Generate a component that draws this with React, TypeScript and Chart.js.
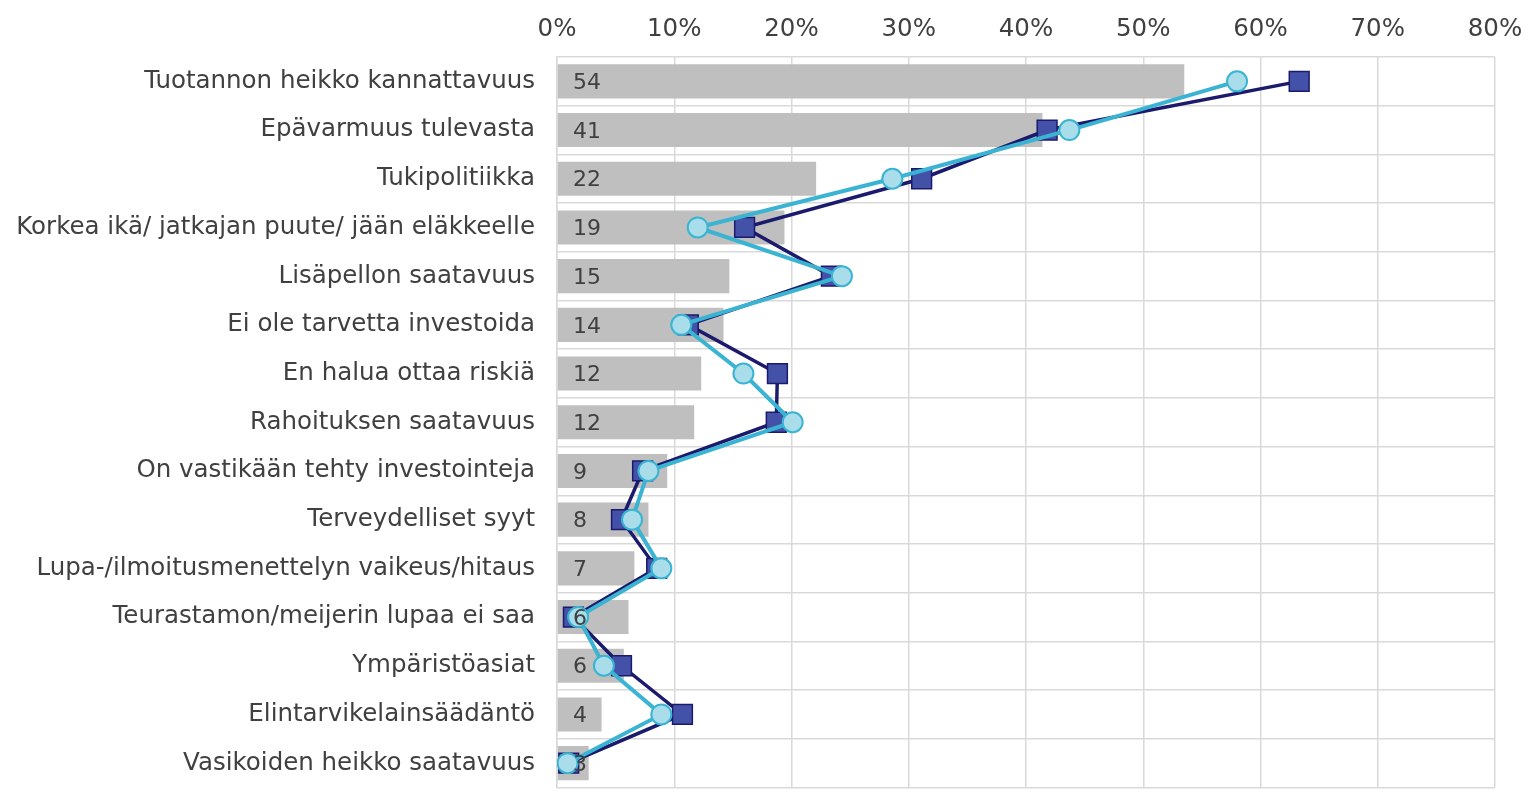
import React, { useEffect, useRef } from "react";
import { Chart, registerables } from "chart.js";

Chart.register(...registerables);

const categories = [
  "Tuotannon heikko kannattavuus",
  "Epävarmuus tulevasta",
  "Tukipolitiikka",
  "Korkea ikä/ jatkajan puute/ jään eläkkeelle",
  "Lisäpellon saatavuus",
  "Ei ole tarvetta investoida",
  "En halua ottaa riskiä",
  "Rahoituksen saatavuus",
  "On vastikään tehty investointeja",
  "Terveydelliset syyt",
  "Lupa-/ilmoitusmenettelyn vaikeus/hitaus",
  "Teurastamon/meijerin lupaa ei saa",
  "Ympäristöasiat",
  "Elintarvikelainsäädäntö",
  "Vasikoiden heikko saatavuus",
];

const barValues = [53.5, 41.4, 22.1, 19.4, 14.7, 14.2, 12.3, 11.7, 9.4, 7.8, 6.6, 6.1, 5.7, 3.8, 2.7];
const navyValues = [63.3, 41.8, 31.1, 16.0, 23.4, 11.2, 18.8, 18.7, 7.3, 5.5, 8.5, 1.4, 5.5, 10.7, 1.0];
const lightValues = [58.0, 43.7, 28.6, 12.0, 24.3, 10.6, 15.9, 20.1, 7.8, 6.4, 8.9, 1.8, 4.0, 8.9, 0.9];
const xTicks = [0, 10, 20, 30, 40, 50, 60, 70, 80];

const FONT = "'DejaVu Sans', Verdana, sans-serif";

const barLabelPlugin = {
  id: "barLabels",
  afterDatasetsDraw(chart: any) {
    const meta = chart.getDatasetMeta(0);
    const ctx = chart.ctx;
    const x0 = chart.scales.x.getPixelForValue(0);
    ctx.save();
    ctx.font = `22px ${FONT}`;
    ctx.fillStyle = "#404040";
    ctx.textAlign = "left";
    ctx.textBaseline = "middle";
    meta.data.forEach((el: any, i: number) => {
      ctx.fillText(String(Math.round(barValues[i])), x0 + 16, el.y + 2);
    });
    ctx.restore();
  },
};

const zeroPad = () => ({ left: 0, top: 0, right: 0, bottom: 0 });

export default function App() {
  const ref = useRef<HTMLCanvasElement>(null);
  useEffect(() => {
    if (!ref.current) return;
    const chart = new Chart(ref.current, {
      type: "bar",
      data: {
        labels: categories,
        datasets: [
          {
            type: "bar",
            data: barValues,
            backgroundColor: "#BFBFBF",
            barPercentage: 0.7,
            categoryPercentage: 1,
            order: 3,
          } as any,
          {
            type: "line",
            data: navyValues,
            borderColor: "#1B1A6C",
            borderWidth: 3.5,
            pointStyle: "rect",
            pointRadius: 14,
            pointBackgroundColor: "#4352A8",
            pointBorderColor: "#1B1A6C",
            pointBorderWidth: 1.5,
            order: 2,
          } as any,
          {
            type: "line",
            data: lightValues,
            borderColor: "#3AB4D2",
            borderWidth: 4,
            pointStyle: "circle",
            pointRadius: 10,
            pointBackgroundColor: "#A9DDEA",
            pointBorderColor: "#3AB4D2",
            pointBorderWidth: 2,
            order: 1,
          } as any,
        ],
      },
      options: {
        indexAxis: "y",
        responsive: false,
        maintainAspectRatio: false,
        animation: false,
        layout: { padding: { left: 0, right: 43, top: 0, bottom: 7 } },
        plugins: { legend: { display: false }, tooltip: { enabled: false } },
        scales: {
          x: {
            position: "top",
            min: 0,
            max: 80,
            afterBuildTicks: (s: any) => {
              s.ticks = xTicks.map((v) => ({ value: v }));
            },
            afterFit: (s: any) => {
              s.height = 57;
              s.getPadding = zeroPad;
            },
            grid: { color: "#D9D9D9", lineWidth: 1.5, drawTicks: false },
            border: { display: false },
            ticks: {
              color: "#404040",
              font: { family: FONT, size: 24.5 },
              padding: 13,
              callback: (v: any) => v + "%",
            },
          },
          y: {
            afterFit: (s: any) => {
              s.width = 557;
              s.paddingTop = 0;
              s.paddingBottom = 0;
              s.getPadding = zeroPad;
            },
            grid: { color: "#D9D9D9", lineWidth: 1.5, drawTicks: false, offset: true },
            border: { color: "#D9D9D9", width: 1.5 },
            ticks: {
              color: "#404040",
              font: { family: FONT, size: 24.5 },
              padding: 22,
            },
          },
        },
      } as any,
      plugins: [barLabelPlugin],
    });
    return () => chart.destroy();
  }, []);
  return (
    <div
      style={{
        position: "absolute",
        left: 0,
        top: 0,
        width: 1538,
        height: 794,
        overflow: "hidden",
        background: "#fff",
      }}
    >
      <canvas ref={ref} width={1538} height={803} style={{ display: "block", width: 1538, height: 803 }} />
    </div>
  );
}
